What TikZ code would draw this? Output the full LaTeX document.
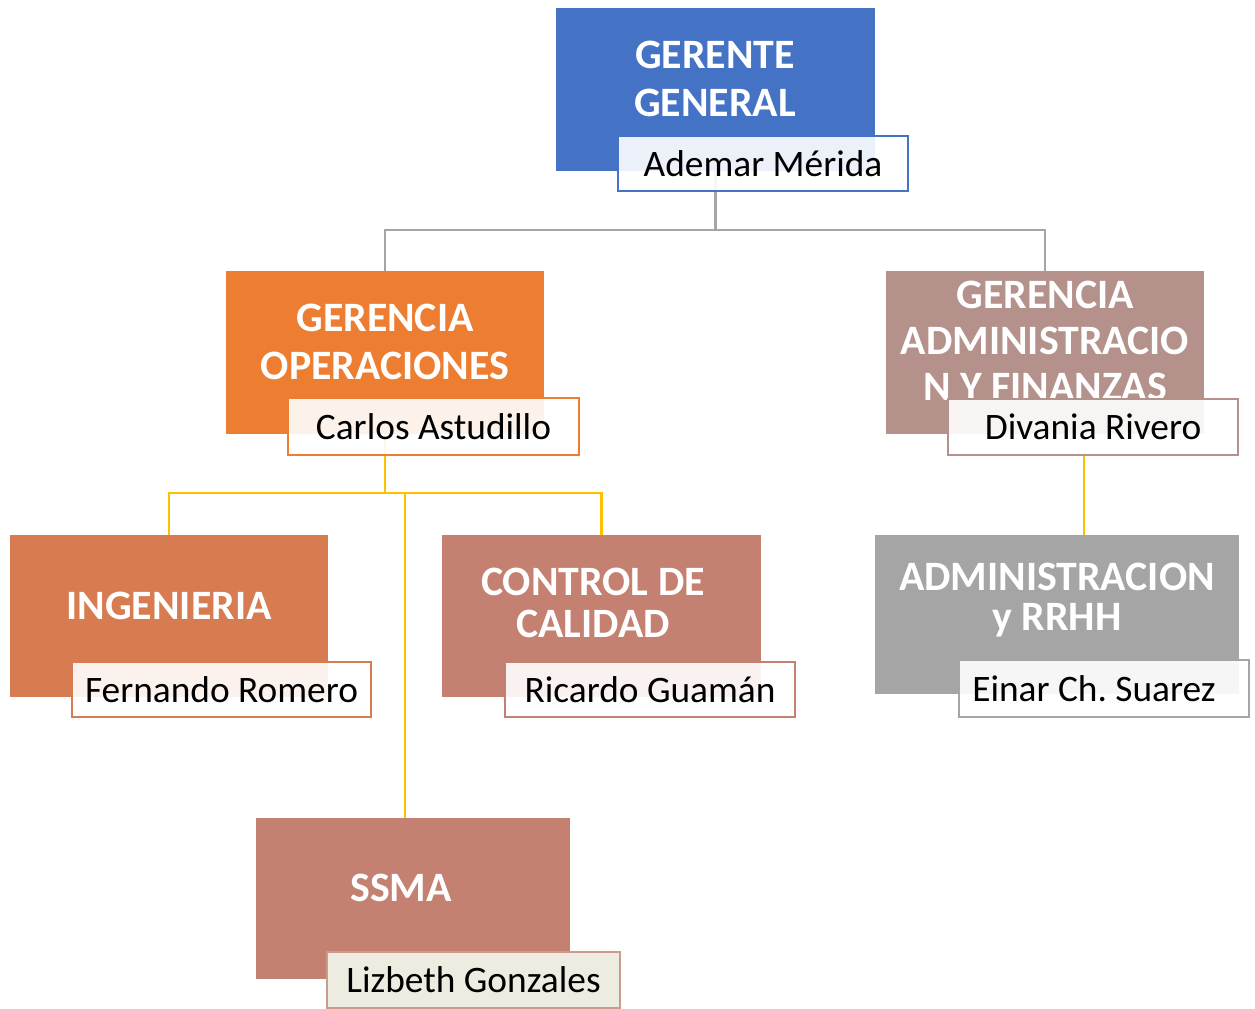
\documentclass[tikz,border=0pt]{standalone}
\usepackage{fontspec}
\setmainfont{Carlito}
\usetikzlibrary{backgrounds}
\frenchspacing
\definecolor{cblue}{HTML}{4472C4}
\definecolor{corange}{HTML}{ED7D31}
\definecolor{cadmin}{HTML}{B4918A}
\definecolor{cing}{HTML}{D77B51}
\definecolor{ccc}{HTML}{C48070}
\definecolor{cgray}{HTML}{A5A5A5}
\definecolor{cyellow}{HTML}{FFC000}
\definecolor{cssmab}{HTML}{CB9C8E}
\definecolor{cbeige}{HTML}{EEEBE0}
\begin{document}
\begin{tikzpicture}[x=1bp,y=-1bp,
  unitbox/.style={anchor=north west,inner sep=0pt,outer sep=0pt,draw=none},
  titletext/.style={text=white,font=\fontsize{42}{48}\selectfont\bfseries,align=center,inner sep=0pt},
  namebox/.style={anchor=north west,inner sep=0pt,outer sep=0pt,fill=white,fill opacity=0.9,text opacity=1,
    line width=2.2bp,font=\fontsize{37.5}{44}\selectfont,text=black},
  gline/.style={draw=cgray,line width=2.5bp},
  yline/.style={draw=cyellow,line width=2.5bp}]
\useasboundingbox (0,0) rectangle (1255,1009);
% boxes
\node[unitbox,fill=cblue,minimum width=319bp,minimum height=163bp] (gg) at (556,8) {};
\node[unitbox,fill=corange,minimum width=318bp,minimum height=163bp] (go) at (226,271) {};
\node[unitbox,fill=cadmin,minimum width=318bp,minimum height=163bp] (ga) at (886,271) {};
\node[unitbox,fill=cing,minimum width=318bp,minimum height=162bp] (ing) at (10,535) {};
\node[unitbox,fill=ccc,minimum width=319bp,minimum height=162bp] (cc) at (442,535) {};
\node[unitbox,fill=cgray,minimum width=364bp,minimum height=159bp] (arh) at (875,535) {};
\node[unitbox,fill=ccc,minimum width=314bp,minimum height=161bp] (ssma) at (256,818) {};
% titles
\node[titletext] (ggt) at (715,79) {GERENTE\\GENERAL};
\node[titletext] (got) at (385,342) {GERENCIA\\OPERACIONES};
\node[titletext,font=\fontsize{42}{46}\selectfont\bfseries] (gat) at (1045,341) {GERENCIA\\ADMINISTRACIO\\N Y FINANZAS};
\node[titletext] (ingt) at (169,606) {INGENIERIA};
\node[titletext,font=\fontsize{42}{42}\selectfont\bfseries] (cct) at (593,603) {CONTROL DE\\CALIDAD};
\node[titletext,font=\fontsize{42}{41}\selectfont\bfseries] (arht) at (1057,600) {ADMINISTRACION\\y RRHH};
\node[titletext] (ssmat) at (401,888) {SSMA};
% name boxes
\node[namebox,draw=cblue,minimum width=290bp,minimum height=55bp] (ggn) at (618,136) {Ademar Mérida};
\node[namebox,draw=corange,minimum width=291bp,minimum height=57bp] (gon) at (288,398) {Carlos Astudillo};
\node[namebox,draw=cadmin,minimum width=290bp,minimum height=56bp] (gan) at (948,399) {Divania Rivero};
\node[namebox,draw=cing,minimum width=299bp,minimum height=55bp] (ingn) at (72,662) {Fernando Romero};
\node[namebox,draw=ccc,minimum width=290bp,minimum height=55bp] (ccn) at (505,662) {Ricardo Guamán};
\node[namebox,draw=cgray,minimum width=290bp,minimum height=57bp] (arhn) at (959,660) {Einar Ch. Suarez\hspace*{20bp}};
\node[namebox,draw=cssmab,fill=cbeige,fill opacity=1,minimum width=293bp,minimum height=56bp] (ssman) at (327,952) {Lizbeth Gonzales};
% connectors
\coordinate (yj) at (405,493);
\coordinate (ay) at (1084,455);
\begin{scope}[on background layer]
\draw[gline] (gg.south) -- ++(0,59) -| (go.north);
\draw[gline] (gg.south) -- ++(0,59) -| (ga.north);
\draw[yline] (go.south) -- ++(0,59) -| (ing.north);
\draw[yline] (go.south) -- ++(0,59) -| (cc.north);
\draw[yline] (yj) -- (yj |- ssma.north);
\draw[yline] (ay) -- (ay |- arh.north);
\end{scope}
\end{tikzpicture}
\end{document}
